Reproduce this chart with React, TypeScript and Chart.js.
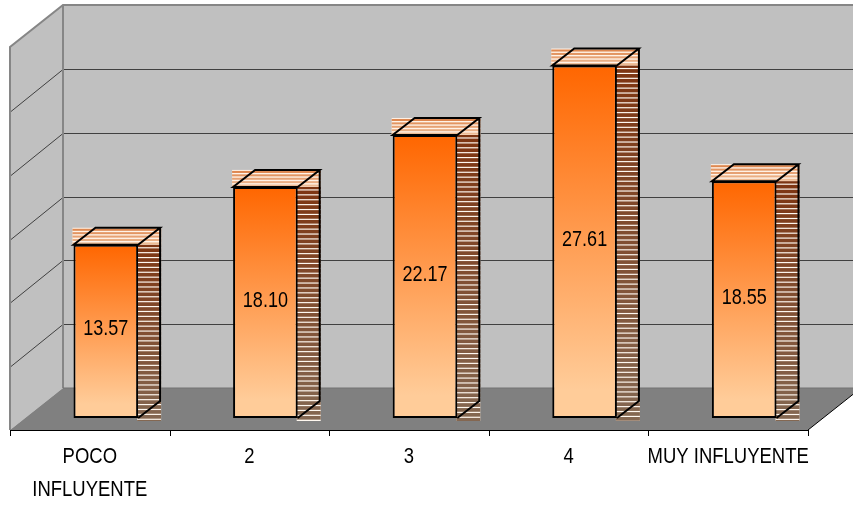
import React, { useEffect, useRef } from "react";
import { Chart, registerables } from "chart.js";

Chart.register(...registerables);

const categories: string[][] = [["POCO", "INFLUYENTE"], ["2"], ["3"], ["4"], ["MUY INFLUYENTE"]];
const percentages = [13.57, 18.1, 22.17, 27.61, 18.55];
const axisMax = 30;
const axisStep = 5;

// Oblique projection: how far the back wall sits from the front plane, and
// where the bars stand between the two.
const WALL_DX = 53;
const WALL_DY = -42;
const BAR_DX = 16;
const BAR_DY = -12;
const SIDE_DX = 22;
const SIDE_DY = -17;

const LABEL_FONT = '"Liberation Sans", Arial, sans-serif';

// Condensed text: the installed sans has no narrow cut, so it is squeezed.
function narrowText(
  ctx: CanvasRenderingContext2D,
  text: string,
  x: number,
  y: number,
  squeeze: number
) {
  ctx.save();
  ctx.translate(x, y);
  ctx.scale(squeeze, 1);
  ctx.fillText(text, 0, 0);
  ctx.restore();
}

function stripes(
  ctx: CanvasRenderingContext2D,
  x: number,
  y: number,
  w: number,
  h: number,
  pitch: number,
  duty: number,
  color: (t: number) => string,
  gap: string
) {
  ctx.fillStyle = gap;
  ctx.fillRect(x, y, w, h);
  for (let py = y + 1; py < y + h - 1; py += pitch) {
    const t = (py - y) / h;
    const band = Math.min(pitch * duty, y + h - py);
    ctx.fillStyle = color(t);
    ctx.fillRect(x, py, w, band);
  }
}

const mix = (a: number[], b: number[], t: number) =>
  `rgb(${a.map((v, i) => Math.round(v + (b[i] - v) * t)).join(",")})`;

const room3d = {
  id: "room3d",
  beforeDatasetsDraw(chart: any) {
    const { ctx, chartArea: a, scales } = chart;
    const y = scales.y;
    const width = chart.width;
    ctx.save();
    // back wall
    ctx.fillStyle = "#c0c0c0";
    ctx.fillRect(a.left + WALL_DX, a.top + WALL_DY, width, a.bottom - a.top);
    // left wall
    ctx.beginPath();
    ctx.moveTo(a.left, a.top);
    ctx.lineTo(a.left + WALL_DX, a.top + WALL_DY);
    ctx.lineTo(a.left + WALL_DX, a.bottom + WALL_DY);
    ctx.lineTo(a.left, a.bottom);
    ctx.closePath();
    ctx.fill();
    // floor
    ctx.fillStyle = "#808080";
    ctx.beginPath();
    ctx.moveTo(a.left, a.bottom);
    ctx.lineTo(a.left + WALL_DX, a.bottom + WALL_DY);
    ctx.lineTo(a.right + WALL_DX, a.bottom + WALL_DY);
    ctx.lineTo(a.right, a.bottom);
    ctx.closePath();
    ctx.fill();
    // grid lines, on both walls
    ctx.strokeStyle = "#404040";
    ctx.lineWidth = 1;
    for (let v = axisStep; v < axisMax; v += axisStep) {
      const py = Math.round(y.getPixelForValue(v)) + 0.5;
      ctx.beginPath();
      ctx.moveTo(a.left + 1, py);
      ctx.lineTo(a.left + WALL_DX, py + WALL_DY);
      ctx.lineTo(width, py + WALL_DY);
      ctx.stroke();
    }
    // wall edges
    ctx.strokeStyle = "#868686";
    ctx.lineWidth = 2;
    ctx.beginPath();
    ctx.moveTo(a.left, a.bottom);
    ctx.lineTo(a.left, a.top);
    ctx.lineTo(a.left + WALL_DX, a.top + WALL_DY);
    ctx.lineTo(width, a.top + WALL_DY);
    ctx.moveTo(a.left + WALL_DX, a.top + WALL_DY);
    ctx.lineTo(a.left + WALL_DX, a.bottom + WALL_DY);
    ctx.stroke();
    ctx.strokeStyle = "#737373";
    ctx.lineWidth = 1;
    ctx.beginPath();
    ctx.moveTo(a.left + WALL_DX, a.bottom + WALL_DY);
    ctx.lineTo(width, a.bottom + WALL_DY);
    ctx.stroke();
    // right-hand diagonal of the floor
    ctx.strokeStyle = "#000000";
    ctx.beginPath();
    ctx.moveTo(a.right, a.bottom);
    ctx.lineTo(a.right + WALL_DX, a.bottom + WALL_DY);
    ctx.stroke();
    ctx.restore();
  },
  beforeDatasetDraw(chart: any) {
    const { ctx } = chart;
    const bars = chart.getDatasetMeta(0).data;
    ctx.save();
    bars.forEach((bar: any) => {
      const l = bar.x - bar.width / 2 + BAR_DX;
      const r = bar.x + bar.width / 2 + BAR_DX;
      const top = bar.y + BAR_DY;
      const base = bar.base + BAR_DY;
      // striped side panel
      stripes(
        ctx,
        r - 1,
        top + SIDE_DY,
        SIDE_DX + 2,
        base - top - SIDE_DY + 3,
        4.9,
        0.76,
        (t: number) => mix([125, 50, 14], [132, 104, 82], t),
        "#fff8f0"
      );
      // striped top panel
      stripes(
        ctx,
        l - 1,
        top + SIDE_DY,
        r - l + SIDE_DX + 2,
        -SIDE_DY,
        3.4,
        0.6,
        (t: number) => mix([221, 132, 76], [240, 196, 160], t),
        "#fff3e8"
      );
      ctx.strokeStyle = "#000000";
      ctx.lineWidth = 2;
      ctx.lineJoin = "miter";
      ctx.beginPath();
      ctx.moveTo(l, top);
      ctx.lineTo(l + SIDE_DX, top + SIDE_DY);
      ctx.lineTo(r + SIDE_DX, top + SIDE_DY);
      ctx.lineTo(r, top);
      ctx.closePath();
      ctx.moveTo(r + SIDE_DX, top + SIDE_DY);
      ctx.lineTo(r + SIDE_DX, base + SIDE_DY);
      ctx.lineTo(r, base);
      ctx.stroke();
    });
    ctx.restore();
    // the native bars are drawn in the plane the depth offset leads to
    ctx.save();
    ctx.translate(BAR_DX, BAR_DY);
  },
  afterDatasetDraw(chart: any) {
    const { ctx } = chart;
    ctx.restore();
    const bars = chart.getDatasetMeta(0).data;
    ctx.save();
    ctx.fillStyle = "#000000";
    ctx.font = `22px ${LABEL_FONT}`;
    ctx.textAlign = "center";
    ctx.textBaseline = "middle";
    bars.forEach((bar: any, i: number) => {
      narrowText(
        ctx,
        percentages[i].toFixed(2),
        bar.x + BAR_DX,
        (bar.y + bar.base) / 2 + BAR_DY - 2,
        0.82
      );
    });
    ctx.restore();
  },
};

const frontAxis = {
  id: "frontAxis",
  afterDatasetsDraw(chart: any) {
    const { ctx, chartArea: a, scales } = chart;
    ctx.save();
    ctx.strokeStyle = "#000000";
    ctx.lineWidth = 1;
    ctx.beginPath();
    ctx.moveTo(a.left, a.bottom + 0.5);
    ctx.lineTo(a.right, a.bottom + 0.5);
    const n = categories.length;
    for (let i = 0; i <= n; i++) {
      const px = Math.round(a.left + ((a.right - a.left) * i) / n) + 0.5;
      ctx.moveTo(px, a.bottom);
      ctx.lineTo(px, a.bottom + 6);
    }
    ctx.stroke();
    ctx.fillStyle = "#000000";
    ctx.font = `22px ${LABEL_FONT}`;
    ctx.textAlign = "center";
    ctx.textBaseline = "middle";
    categories.forEach((lines, i) => {
      lines.forEach((line, j) => {
        narrowText(ctx, line, scales.x.getPixelForValue(i), a.bottom + 27 + j * 33, 0.84);
      });
    });
    ctx.restore();
  },
};

export default function App() {
  const ref = useRef<HTMLCanvasElement>(null);
  useEffect(() => {
    const canvas = ref.current!;
    const ctx = canvas.getContext("2d")!;
    const chart = new Chart(ctx, {
      type: "bar",
      data: {
        labels: categories.map((c) => c.join(" ")),
        datasets: [
          {
            data: percentages,
            barPercentage: 0.405,
            categoryPercentage: 1,
            borderColor: "#000000",
            borderWidth: 2,
            borderSkipped: false,
            clip: false as any,
            backgroundColor: (c: any) => {
              const y = c.chart.scales.y;
              if (!c.chart.chartArea || c.raw === undefined) return "#ff6600";
              const g = c.chart.ctx.createLinearGradient(
                0,
                y.getPixelForValue(c.raw),
                0,
                y.getPixelForValue(0)
              );
              g.addColorStop(0, "#ff6600");
              g.addColorStop(0.92, "#ffcc99");
              g.addColorStop(1, "#ffcc99");
              return g;
            },
          },
        ],
      },
      options: {
        responsive: false,
        animation: false,
        layout: { padding: { left: 10, right: 45, top: 47, bottom: 80 } },
        plugins: { legend: { display: false }, tooltip: { enabled: false } },
        scales: {
          x: {
            grid: { display: false, tickLength: 0, drawTicks: false },
            border: { display: false },
            ticks: { display: false, padding: 0 },
          },
          y: {
            display: false,
            min: 0,
            max: axisMax,
            ticks: { stepSize: axisStep },
          },
        },
      },
      plugins: [room3d, frontAxis],
    });
    return () => chart.destroy();
  }, []);
  return <canvas ref={ref} width={853} height={510} style={{ display: "block", position: "absolute", left: 0, top: 0 }} />;
}
